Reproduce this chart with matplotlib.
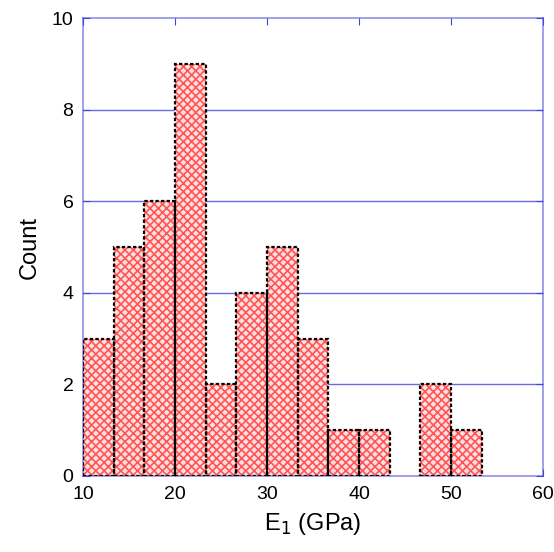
import matplotlib
matplotlib.use("Agg")
import matplotlib.pyplot as plt
import numpy as np

plt.rcParams["font.family"] = ["Liberation Sans", "DejaVu Sans"]
plt.rcParams["hatch.linewidth"] = 1.2

# histogram of E1 values, bins of 10/3 GPa starting at 10
bin_start = 10.0
bin_width = 10.0 / 3.0
counts = [3, 5, 6, 9, 2, 4, 5, 3, 1, 1, 0, 2, 1]
x_ticks = [10, 20, 30, 40, 50, 60]
y_ticks = [0, 2, 4, 6, 8, 10]

lefts = bin_start + bin_width * np.arange(len(counts))
blue = "#4444dd"

fig = plt.figure(figsize=(5.54, 5.52), dpi=100)
ax = fig.add_axes([0.150, 0.138, 0.830, 0.829])

for y in y_ticks[1:-1]:
    ax.axhline(y, color=blue, lw=1.0, alpha=0.8, zorder=0)

mask = np.array(counts) > 0
ax.bar(lefts[mask], np.array(counts)[mask], width=bin_width, align="edge",
       color="#ffe0e0", edgecolor="#ff5555", hatch="xxxx", linewidth=0, zorder=2)
ax.bar(lefts[mask], np.array(counts)[mask], width=bin_width, align="edge",
       fill=False, edgecolor="black", linestyle=(0, (1.5, 1)), linewidth=1.6, zorder=3)

ax.set_xlim(10, 60)
ax.set_ylim(0, 10)
ax.set_xticks(x_ticks)
ax.set_yticks(y_ticks)
ax.tick_params(direction="in", color=blue, length=5, top=True, right=True,
               labelsize=14, pad=7)
for s in ax.spines.values():
    s.set_color(blue)
    s.set_alpha(0.6)
    s.set_linewidth(1.2)

ax.set_xlabel("E$_1$ (GPa)", fontsize=17, labelpad=6)
ax.set_ylabel("Count", fontsize=17, labelpad=8)

fig.savefig("out.png", dpi=100)
